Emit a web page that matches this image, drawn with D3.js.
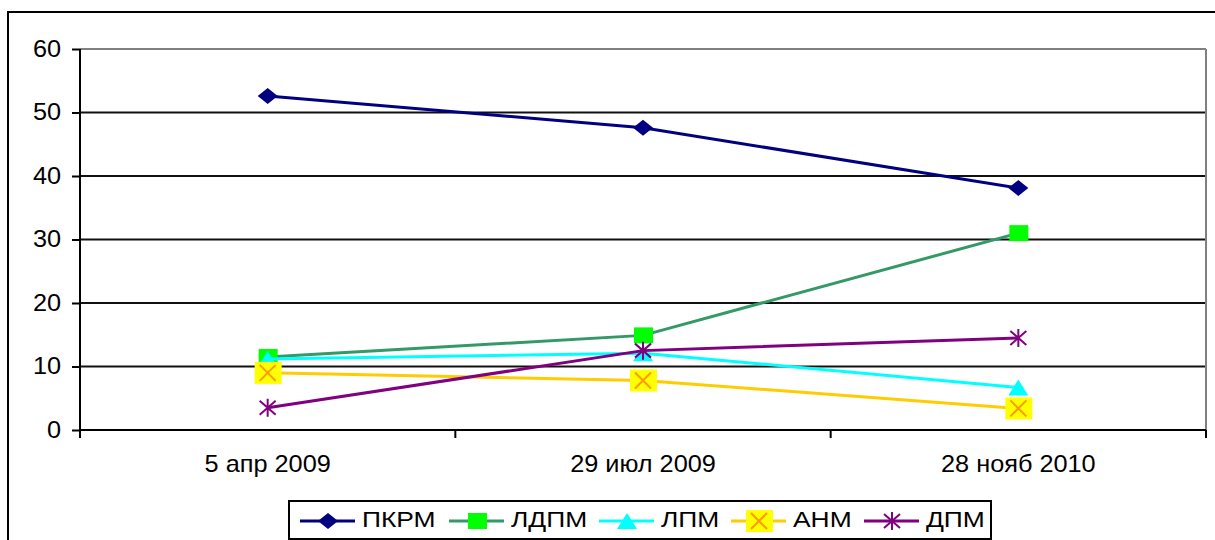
<!DOCTYPE html>
<html><head><meta charset="utf-8">
<script src="https://cdn.jsdelivr.net/npm/d3@7"></script>
<style>body{margin:0;background:#fff}svg{display:block;font-family:"Liberation Sans",Arial,sans-serif}</style>
</head><body>
<svg id="c" width="1215" height="540"></svg>
<script>
const categories = ["5 апр 2009", "29 июл 2009", "28 нояб 2010"];
const yTicks = [0, 10, 20, 30, 40, 50, 60];
const seriesNames = ["ПКРМ", "ЛДПМ", "ЛПМ", "АНМ", "ДПМ"];
const pkrm = [52.6, 47.6, 38.1];
const ldpm = [11.5, 14.9, 31.0];
const lpm  = [11.2, 12.1, 6.7];
const anm  = [9.0, 7.8, 3.4];
const dpm  = [3.5, 12.5, 14.5];
const seriesValues = [pkrm, ldpm, lpm, anm, dpm];
const lineColors = ["#000080", "#339966", "#00ffff", "#ffcc00", "#800080"];
const markerTypes = ["diamond", "square", "triangle", "x", "star"];

const svg = d3.select("#c");
const L = 80, R = 1206, T = 49, B = 430;

function stretch(sel, s) {
  sel.each(function () {
    const t = d3.select(this);
    const ax = +(t.attr("x") || 0);
    t.attr("transform", `translate(${ax},0) scale(${s},1) translate(${-ax},0)`);
  });
}

// outer frame
svg.append("rect").attr("x", 8).attr("y", 12).attr("width", 1230).attr("height", 560)
  .attr("fill", "none").attr("stroke", "#000").attr("stroke-width", 2);

const x = d3.scaleBand().domain(categories).range([L, R]);
const y = d3.scaleLinear().domain([0, 60]).range([B, T]);

// gridlines
svg.append("g").selectAll("line").data(yTicks.filter(d => d > 0)).join("line")
  .attr("x1", L).attr("x2", R).attr("y1", d => y(d)).attr("y2", d => y(d))
  .attr("stroke", d => d === 60 ? "#808080" : "#111").attr("stroke-width", 2);
// plot area right border
svg.append("line").attr("x1", R).attr("x2", R).attr("y1", T).attr("y2", B)
  .attr("stroke", "#808080").attr("stroke-width", 2);

// y axis
const yAxis = svg.append("g").attr("transform", `translate(${L},0)`)
  .call(d3.axisLeft(y).tickValues(yTicks).tickSize(8).tickPadding(11).tickSizeOuter(0));
yAxis.select(".domain").attr("stroke", "#000").attr("stroke-width", 2).attr("d", `M0,${T}V${B+8}`);
yAxis.selectAll(".tick line").attr("stroke", "#000").attr("stroke-width", 2);
yAxis.selectAll("text").attr("font-size", 23).attr("fill", "#000").call(stretch, 1.1);

// x axis
const xAxis = svg.append("g").attr("transform", `translate(0,${B})`)
  .call(d3.axisBottom(x).tickSize(0).tickPadding(26));
xAxis.select(".domain").attr("stroke", "#000").attr("stroke-width", 2).attr("d", `M${L},0H${R}`);
xAxis.selectAll("text").attr("font-size", 23).attr("fill", "#000").call(stretch, 1.1);
// category boundary ticks
const bounds = categories.map(c => x(c)).concat([x(categories[2]) + x.bandwidth()]);
svg.append("g").selectAll("line").data(bounds).join("line")
  .attr("x1", d => d).attr("x2", d => d).attr("y1", B).attr("y2", B + 8)
  .attr("stroke", "#000").attr("stroke-width", 2);

function drawMarker(g, type, cx, cy) {
  if (type === "diamond") {
    g.append("path").attr("d", `M${cx-10},${cy}L${cx},${cy-8}L${cx+10},${cy}L${cx},${cy+8}Z`).attr("fill", "#000080");
  } else if (type === "square") {
    g.append("rect").attr("x", cx-9).attr("y", cy-8).attr("width", 19).attr("height", 16).attr("fill", "#00ff00");
  } else if (type === "triangle") {
    g.append("path").attr("d", `M${cx},${cy-8}L${cx+10},${cy+8}L${cx-10},${cy+8}Z`).attr("fill", "#00ffff");
  } else if (type === "x") {
    g.append("rect").attr("x", cx-13).attr("y", cy-11).attr("width", 27).attr("height", 22).attr("fill", "#ffff00");
    g.append("path").attr("d", `M${cx-8},${cy-8}L${cx+8},${cy+8}M${cx+8},${cy-8}L${cx-8},${cy+8}`)
      .attr("stroke", "#ff9900").attr("stroke-width", 2);
  } else if (type === "star") {
    g.append("path").attr("d", `M${cx-8},${cy-7}L${cx+8},${cy+7}M${cx+8},${cy-7}L${cx-8},${cy+7}M${cx},${cy-9}V${cy+9}`)
      .attr("stroke", "#800080").attr("stroke-width", 2);
  }
}

const line = d3.line().x((d, i) => x(categories[i]) + x.bandwidth() / 2).y(d => y(d));
seriesValues.forEach((vals, si) => {
  const g = svg.append("g");
  g.append("path").attr("d", line(vals)).attr("fill", "none")
    .attr("stroke", lineColors[si]).attr("stroke-width", 3);
  vals.forEach((v, i) => drawMarker(g, markerTypes[si], x(categories[i]) + x.bandwidth() / 2, y(v)));
});

// legend
const lg = svg.append("g");
lg.append("rect").attr("x", 289).attr("y", 501).attr("width", 702).attr("height", 38)
  .attr("fill", "#fff").attr("stroke", "#000").attr("stroke-width", 2);
const legendX = [300, 449, 599, 731, 864];
seriesNames.forEach((n, i) => {
  const lx = legendX[i], ly = 521;
  lg.append("line").attr("x1", lx).attr("x2", lx + 55).attr("y1", ly).attr("y2", ly)
    .attr("stroke", lineColors[i]).attr("stroke-width", 3);
  drawMarker(lg, markerTypes[i], lx + 28, ly);
  lg.append("text").attr("x", lx + 62).attr("y", 527).attr("font-size", 22).attr("fill", "#000").text(n)
    .call(stretch, 1.2);
});
</script>
</body></html>
